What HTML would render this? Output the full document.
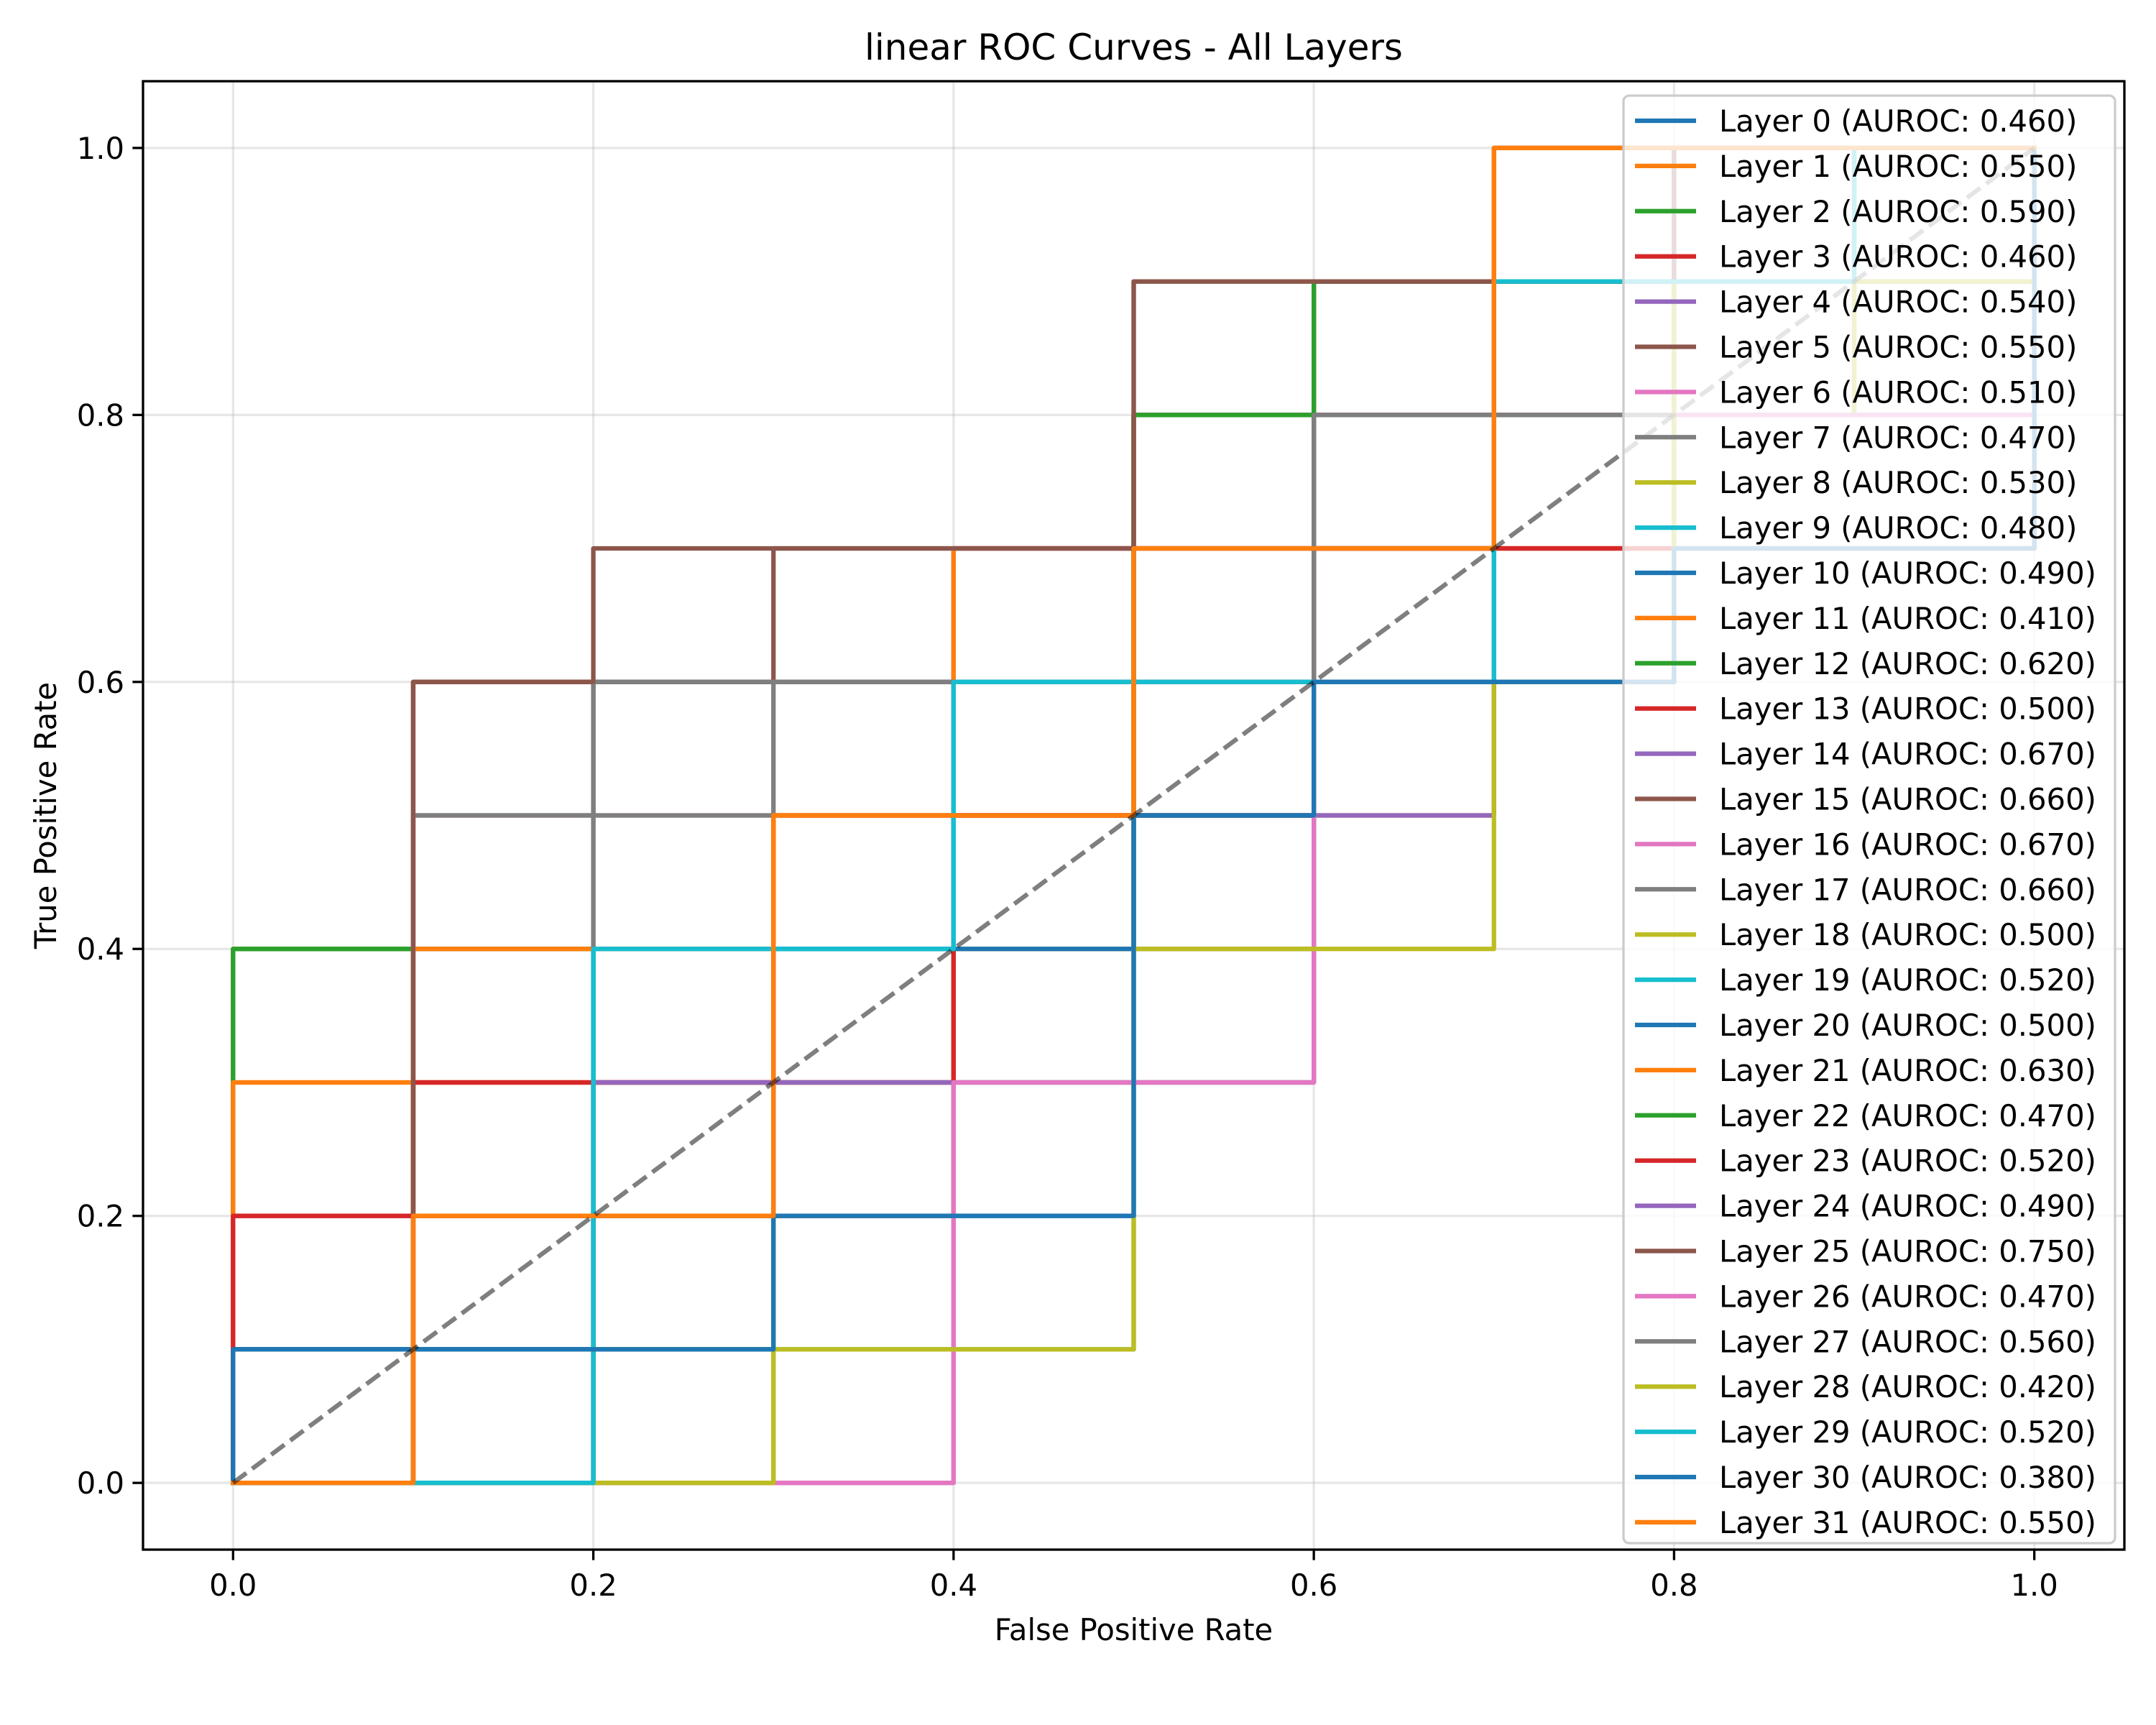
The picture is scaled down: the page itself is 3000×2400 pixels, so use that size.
<!DOCTYPE html>
<html><head><meta charset="utf-8"><style>
html,body{margin:0;padding:0;background:#fff;}
svg{display:block;font-family:"DejaVu Sans","Liberation Sans",sans-serif;}
</style></head><body>
<svg id="chart" width="3000" height="2400" viewBox="0 0 3000 2400" xmlns="http://www.w3.org/2000/svg">
<rect width="3000" height="2400" fill="#fff"/>
<g id="grid"></g>
<g id="curves"></g>
<g id="axes"></g>
<g id="legend"></g>
</svg>
<script>
const layers = Array.from({length:32},(_, i)=>'Layer '+i);
const aurocs = [0.46,0.55,0.59,0.46,0.54,0.55,0.51,0.47,0.53,0.48,0.49,0.41,0.62,0.50,0.67,0.66,0.67,0.66,0.50,0.52,0.50,0.63,0.47,0.52,0.49,0.75,0.47,0.56,0.42,0.52,0.38,0.55];
const ticks = [0,0.2,0.4,0.6,0.8,1.0];
const tickLabels = ['0.0','0.2','0.4','0.6','0.8','1.0'];
// curve points: [fpr*10, tpr*10]
const curves = [
[[0,0],[0,1],[3,1],[3,2],[5,2],[5,5],[6,5],[6,6],[8,6],[8,10],[10,10]],
[[0,0],[0,3],[3,3],[3,5],[5,5],[5,7],[7,7],[7,10],[10,10]],
[[0,0],[0,4],[3,4],[3,4],[5,4],[5,8],[6,8],[6,9],[10,9],[10,10]],
[[0,0],[0,2],[1,2],[1,3],[4,3],[4,5],[7,5],[7,7],[10,7],[10,10]],
[[0,0],[2,0],[2,3],[6,3],[6,8],[10,8],[10,10]],
[[0,0],[1,0],[1,6],[3,6],[3,7],[5,7],[5,9],[7,9],[7,10],[10,10]],
[[0,0],[4,0],[4,7],[7,7],[7,8],[10,8],[10,10]],
[[0,0],[2,0],[2,4],[6,4],[6,8],[9,8],[9,10],[10,10]],
[[0,0],[3,0],[3,3],[6,3],[6,6],[8,6],[8,8],[9,8],[9,10],[10,10]],
[[0,0],[2,0],[2,4],[4,4],[4,6],[7,6],[7,9],[9,9],[9,10],[10,10]],
[[0,0],[0,1],[2,1],[2,2],[4,2],[4,5],[6,5],[6,6],[8,6],[8,9],[10,9],[10,10]],
[[0,0],[1,0],[1,2],[4,2],[4,4],[5,4],[5,5],[6,5],[6,7],[8,7],[8,10],[10,10]],
[[0,0],[0,4],[2,4],[2,6],[5,6],[5,8],[6,8],[6,9],[10,9],[10,10]],
[[0,0],[0,2],[2,2],[2,3],[4,3],[4,5],[6,5],[6,7],[7,7],[7,9],[10,9],[10,10]],
[[0,0],[1,0],[1,5],[2,5],[2,6],[4,6],[4,7],[6,7],[6,9],[10,9],[10,10]],
[[0,0],[1,0],[1,6],[3,6],[3,6],[5,6],[5,8],[7,8],[7,9],[10,9],[10,10]],
[[0,0],[0,2],[1,2],[1,5],[4,5],[4,7],[5,7],[5,8],[7,8],[7,10],[10,10]],
[[0,0],[1,0],[1,5],[2,5],[2,6],[5,6],[5,7],[6,7],[6,9],[10,9],[10,10]],
[[0,0],[2,0],[2,2],[3,2],[3,4],[5,4],[5,6],[7,6],[7,8],[9,8],[9,10],[10,10]],
[[0,0],[2,0],[2,4],[4,4],[4,6],[6,6],[6,7],[7,7],[7,9],[9,9],[9,10],[10,10]],
[[0,0],[0,1],[2,1],[2,2],[3,2],[3,4],[5,4],[5,5],[6,5],[6,6],[8,6],[8,10],[10,10]],
[[0,0],[0,3],[1,3],[1,2],[1,4],[3,4],[3,5],[4,5],[4,7],[7,7],[7,10],[10,10]],
[[0,0],[2,0],[2,1],[5,1],[5,8],[6,8],[6,9],[7,9],[10,9],[10,10]],
[[0,0],[0,2],[1,2],[1,3],[2,3],[2,3],[3,3],[3,5],[5,5],[5,6],[6,6],[6,7],[10,7],[10,10]],
[[0,0],[2,0],[2,3],[5,3],[5,3],[6,3],[6,5],[7,5],[7,8],[10,8],[10,10]],
[[0,0],[1,0],[1,6],[2,6],[2,7],[5,7],[5,9],[8,9],[8,10],[10,10]],
[[0,0],[4,0],[4,2],[4,3],[6,3],[6,6],[7,6],[7,8],[10,8],[10,10]],
[[0,0],[2,0],[2,5],[3,5],[3,6],[4,6],[6,6],[6,8],[8,8],[8,9],[10,9],[10,10]],
[[0,0],[1,0],[3,0],[3,1],[5,1],[5,4],[7,4],[7,6],[8,6],[8,9],[10,9],[10,10]],
[[0,0],[2,0],[2,4],[3,4],[3,4],[4,4],[4,6],[6,6],[7,6],[7,9],[9,9],[9,10],[10,10]],
[[0,0],[0,1],[3,1],[3,2],[5,2],[5,4],[5,5],[6,5],[6,6],[8,6],[8,7],[10,7],[10,10]],
[[0,0],[1,0],[1,2],[3,2],[3,5],[5,5],[5,7],[7,7],[7,10],[10,10]]
];
const colors=['#1f77b4','#ff7f0e','#2ca02c','#d62728','#9467bd','#8c564b','#e377c2','#7f7f7f','#bcbd22','#17becf'];
const NS='http://www.w3.org/2000/svg';
const L=199,R=2956,T=113,B=2156;
function sx(v){return L+(v+0.05)/1.1*(R-L);}
function sy(v){return B-(v+0.05)/1.1*(B-T);}
function mk(tag,attrs,parent){const e=document.createElementNS(NS,tag);for(const k in attrs)e.setAttribute(k,attrs[k]);parent.appendChild(e);return e;}
const grid=document.getElementById('grid'),cg=document.getElementById('curves'),ax=document.getElementById('axes'),lg=document.getElementById('legend');
ticks.forEach((t,i)=>{
  const gx=mk('line',{x1:sx(t),x2:sx(t),y1:T,y2:B,stroke:'#b0b0b0','stroke-opacity':0.3,'stroke-width':3.3},grid);
  
  
  const gy=mk('line',{x1:L,x2:R,y1:sy(t),y2:sy(t),stroke:'#b0b0b0','stroke-opacity':0.3,'stroke-width':3.3},grid);
  
  
  mk('line',{x1:sx(t),x2:sx(t),y1:B,y2:B+14.6,stroke:'#000','stroke-width':3.3},ax);
  mk('line',{x1:L,x2:L-14.6,y1:sy(t),y2:sy(t),stroke:'#000','stroke-width':3.3},ax);
  const xt=mk('text',{x:sx(t),y:B+64,'text-anchor':'middle','font-size':41.7},ax);xt.textContent=tickLabels[i];
  
  
  const yt=mk('text',{x:L-26,y:sy(t)+15,'text-anchor':'end','font-size':41.7},ax);yt.textContent=tickLabels[i];
  
  
});
curves.forEach((c,i)=>{
  const p=mk('polyline',{points:c.map(q=>sx(q[0]/10)+','+sy(q[1]/10)).join(' '),fill:'none',stroke:colors[i%10],'stroke-width':6.25,'stroke-linejoin':'round','stroke-linecap':'square'},cg);
  
  
});
const diag=mk('line',{x1:sx(0),y1:sy(0),x2:sx(1),y2:sy(1),stroke:'#000','stroke-opacity':0.5,'stroke-width':6.25,'stroke-dasharray':'23 10'},cg);


const frame=mk('rect',{x:L,y:T,width:R-L,height:B-T,fill:'none',stroke:'#000','stroke-width':3.3},ax);


const title=mk('text',{x:(L+R)/2,y:83,'text-anchor':'middle','font-size':50},ax);title.textContent='linear ROC Curves - All Layers';


const xl=mk('text',{x:(L+R)/2,y:2282,'text-anchor':'middle','font-size':41.7},ax);xl.textContent='False Positive Rate';


const yl=mk('text',{x:0,y:0,'text-anchor':'middle','font-size':41.7,transform:'translate(78,'+((T+B)/2)+') rotate(-90)'},ax);yl.textContent='True Positive Rate';


const box=mk('rect',{x:2259,y:133,width:684,height:2014,rx:8,fill:'#fff','fill-opacity':0.8,stroke:'#cccccc','stroke-width':3.3},lg);


layers.forEach((name,i)=>{
  const y=168+i*62.9;
  const ln=mk('line',{x1:2275,x2:2360,y1:y,y2:y,stroke:colors[i%10],'stroke-width':6.25},lg);
  
  
  const tx=mk('text',{x:2392,y:y+15,'font-size':41.7},lg);
  tx.textContent=name+' (AUROC: '+aurocs[i].toFixed(3)+')';
  
  
});
</script>
</body></html>
